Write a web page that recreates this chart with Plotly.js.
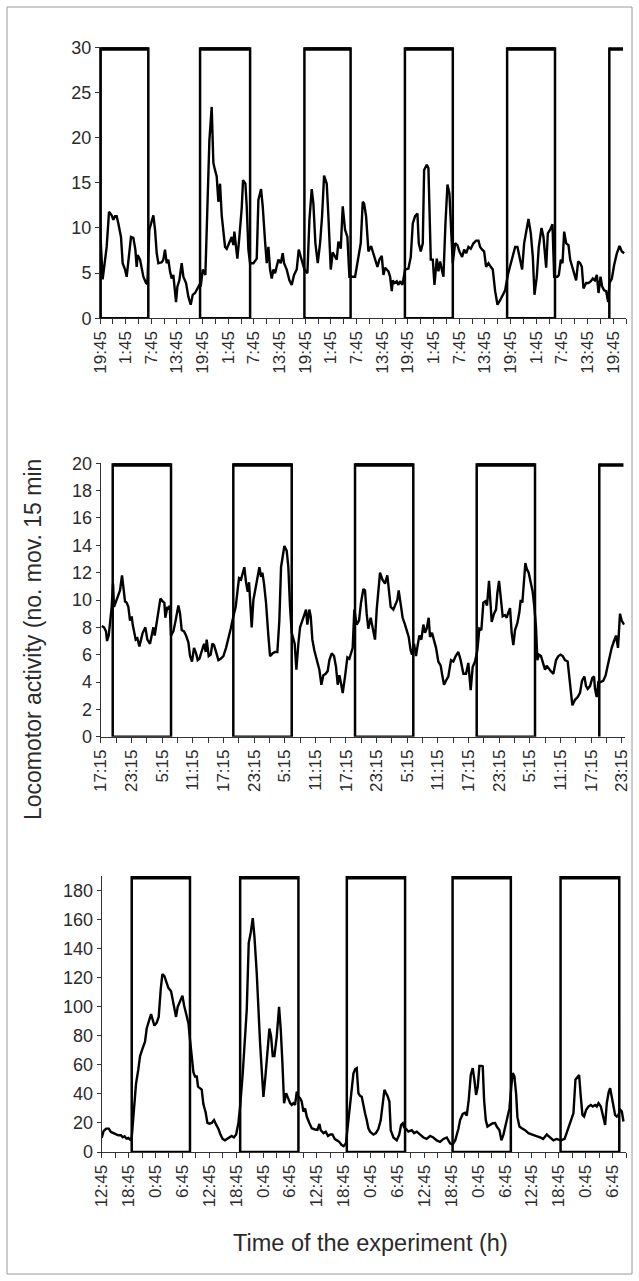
<!DOCTYPE html>
<html>
<head>
<meta charset="utf-8">
<script src="https://cdn.plot.ly/plotly-3.0.1.min.js"></script>
<style>
html,body{margin:0;padding:0;background:#fff;}
#chart{width:639px;height:1281px;}
</style>
</head>
<body>
<div id="chart"></div>
<script>
// ---------- Panel 1 ----------
const hours1 = [0.16,0.62,1.56,2.11,2.73,3.12,3.51,3.90,4.29,4.91,5.30,5.85,6.24,6.78,7.25,7.80,8.27,8.58,8.81,9.36,9.75,10.14,10.76,11.07,11.54,12.48,12.87,13.26,13.65,14.43,14.81,15.20,15.59,15.98,16.37,16.76,17.15,17.54,17.78,18.09,18.56,19.10,19.49,20.12,20.66,21.21,21.68,22.22,22.77,23.24,23.55,24.02,24.64,25.34,25.58,26.12,26.51,26.90,27.29,27.68,28.07,28.46,28.85,29.24,29.63,30.25,30.80,31.19,31.42,31.81,32.12,32.59,33.14,33.45,34.00,34.31,34.70,35.09,35.87,36.65,37.04,37.66,38.05,38.60,38.99,39.38,39.77,40.16,40.55,40.94,41.72,42.26,42.73,43.04,43.66,44.29,44.83,45.38,46.00,46.47,46.94,47.41,47.80,48.50,48.97,49.51,49.90,50.37,50.92,51.46,51.93,52.40,53.02,53.41,53.96,54.42,54.97,55.36,55.75,56.30,56.76,57.31,57.85,58.32,59.10,59.65,60.04,60.43,60.97,61.44,61.75,62.22,62.77,63.39,63.94,64.33,64.87,65.34,65.89,66.28,66.67,67.06,67.45,67.84,68.23,68.46,68.85,69.40,69.79,70.17,70.72,71.34,72.12,72.67,73.14,73.68,74.23,74.54,75.01,75.48,75.79,76.41,76.80,77.35,77.82,78.21,78.75,79.14,79.53,79.92,80.31,80.78,81.25,81.71,82.03,82.49,83.04,83.59,84.05,84.68,85.15,85.61,86.16,86.71,87.33,87.95,88.50,88.89,89.36,89.82,90.29,90.84,91.38,91.85,92.40,92.94,93.57,94.11,94.74,95.36,95.91,96.53,97.08,97.62,98.25,98.71,99.18,99.65,100.19,100.74,101.21,101.60,102.14,102.61,103.24,103.70,104.33,104.72,105.26,105.81,106.20,106.67,106.98,107.29,107.76,108.15,108.54,109.01,109.55,109.94,110.49,110.95,111.34,111.81,112.28,112.67,113.06,113.68,114.23,114.77,115.24,115.71,116.18,116.57,117.04,117.43,117.89,118.36,118.83,119.14,119.69,120.23,120.86,121.48,122.03,122.57];
const activity1 = [8.7,4.3,7.9,11.8,11.4,10.9,11.3,11.3,10.5,9.0,6.1,5.4,4.6,6.8,9.0,8.9,7.6,5.7,7.0,6.5,5.7,4.6,3.9,3.8,9.8,11.4,9.8,7.2,6.1,6.2,6.5,7.6,6.1,6.5,5.2,4.4,4.8,3.1,1.8,3.5,4.2,6.1,4.6,3.9,2.4,1.5,2.6,2.8,3.3,3.7,3.5,5.4,4.8,16.4,19.7,23.4,17.2,16.4,15.7,12.9,14.9,11.4,9.8,7.9,7.7,8.3,9.0,8.1,9.6,7.9,6.6,9.0,12.2,15.3,14.9,12.4,7.6,6.1,6.1,6.6,13.1,14.3,12.4,8.5,6.1,7.9,5.4,4.4,5.4,5.0,6.5,6.1,7.2,6.1,5.4,4.2,3.7,4.8,5.4,7.6,6.8,6.1,5.4,5.0,10.9,14.3,12.7,8.3,6.1,8.3,11.3,15.8,14.9,11.3,5.4,7.3,6.8,6.5,8.5,7.7,12.4,9.8,9.0,4.6,4.6,4.6,5.7,6.8,8.3,12.9,12.7,11.3,7.4,8.0,7.2,6.6,5.7,6.5,6.9,4.8,5.6,5.4,5.2,4.6,3.0,4.2,3.9,4.1,3.7,4.1,3.7,5.4,5.5,6.8,10.5,11.3,11.6,8.3,7.4,8.3,16.4,17.0,16.6,6.5,6.5,3.7,6.6,5.2,6.3,5.4,4.6,10.5,14.8,13.8,9.8,6.1,8.3,8.1,7.4,6.8,7.6,7.2,7.9,7.7,8.3,8.6,8.6,7.9,7.6,7.4,5.7,6.1,5.7,5.4,3.0,1.5,2.0,2.6,3.1,4.8,5.9,6.8,7.9,7.9,6.6,5.4,8.3,9.8,11.0,9.4,6.8,2.6,4.6,7.9,10.0,9.0,5.6,9.4,9.8,10.4,4.6,4.6,4.6,4.8,6.5,6.1,9.6,8.3,8.1,6.5,5.7,5.0,4.2,6.3,6.1,5.7,3.3,3.9,3.9,4.1,4.4,4.2,4.8,2.8,4.6,3.5,3.1,3.0,1.8,3.9,4.4,5.9,7.2,8.0,7.4,7.2];
const darkStart1 = [0.16,23.4,47.8,71.3,95.2,119.1];
const darkEnd1   = [11.3,35.1,58.6,82.5,106.4,122.3];
const tickLabels1 = ['19:45','1:45','7:45','13:45','19:45','1:45','7:45','13:45','19:45','1:45','7:45','13:45','19:45','1:45','7:45','13:45','19:45','1:45','7:45','13:45','19:45'];

// ---------- Panel 2 ----------
const hours2 = [0.20,0.65,1.04,1.24,1.57,1.83,2.15,2.41,2.61,3.00,3.46,3.78,4.17,4.44,4.76,5.09,5.41,5.74,6.07,6.26,6.52,6.85,7.18,7.57,7.89,8.22,8.74,9.13,9.65,9.98,10.31,10.57,10.96,11.35,11.68,12.13,12.46,12.65,13.05,13.31,13.50,13.76,14.22,14.61,14.87,15.20,15.53,15.85,16.31,16.70,17.16,17.48,17.87,18.26,18.66,18.98,19.31,19.77,20.22,20.55,20.74,21.14,21.53,21.85,22.18,22.57,23.03,23.48,24.01,24.53,24.98,25.44,25.96,26.42,26.75,27.07,27.46,27.79,28.11,28.44,28.77,29.03,29.29,29.55,29.88,30.20,30.66,31.05,31.38,31.64,31.96,32.35,32.81,33.14,33.66,34.12,34.57,34.96,35.29,35.94,36.40,36.72,37.05,37.38,37.96,38.29,38.68,39.01,39.46,39.86,40.18,40.44,40.83,41.10,41.42,41.81,42.27,42.79,43.18,43.57,44.03,44.42,44.75,45.21,45.66,46.05,46.38,46.71,47.03,47.36,47.81,48.27,48.66,48.98,49.31,49.63,50.09,50.55,50.94,51.40,51.72,52.05,52.37,52.83,53.22,53.68,54.01,54.33,54.66,55.11,55.64,56.09,56.48,56.75,57.27,57.59,58.05,58.31,58.70,59.09,59.55,59.88,60.27,60.66,60.92,61.31,61.70,62.03,62.36,62.75,63.14,63.46,63.79,64.18,64.44,64.83,65.23,65.62,66.07,66.53,66.79,67.18,67.57,68.03,68.55,69.01,69.47,69.99,70.44,70.97,71.49,71.94,72.40,72.79,73.25,73.70,74.10,74.49,74.88,75.27,75.60,75.99,76.31,76.51,76.97,77.36,77.62,77.95,78.34,78.66,79.12,79.45,79.77,80.10,80.42,80.75,81.08,81.53,81.93,82.19,82.51,82.84,83.10,83.36,83.75,84.14,84.53,84.86,85.19,85.45,85.77,86.16,86.62,86.95,87.27,87.60,88.06,88.58,89.10,89.56,90.01,90.41,90.86,91.38,91.84,92.30,92.82,93.34,93.80,94.19,94.65,94.97,95.30,95.75,96.21,96.54,96.73,97.06,97.39,97.84,98.36,98.82,99.22,99.67,100.00,100.45,100.84,101.23,101.62,101.95,102.41];
const activity2 = [8.1,8.0,7.7,7.0,7.4,8.3,9.5,11.2,9.5,9.9,10.4,10.7,11.8,10.9,9.9,9.8,9.5,8.5,8.8,8.2,7.8,7.1,7.2,6.6,7.1,7.6,8.0,7.1,6.8,7.4,8.0,7.4,8.3,9.3,10.1,9.9,9.8,8.7,9.5,9.3,9.6,7.4,7.7,8.4,9.1,9.6,9.0,7.8,7.7,7.4,6.9,5.9,5.5,6.5,6.1,5.6,5.7,6.2,6.8,6.2,7.1,5.9,6.0,6.8,6.7,6.2,5.6,5.7,5.9,6.5,7.1,7.9,8.8,9.5,10.6,11.6,11.5,12.0,12.4,11.3,10.6,11.3,9.3,8.0,10.0,10.7,11.5,12.4,11.7,12.0,11.2,9.8,7.4,5.9,6.1,6.2,6.2,8.5,12.4,13.95,13.6,12.4,9.5,7.6,6.8,4.9,6.8,8.0,8.5,9.0,9.3,8.2,9.3,8.8,7.1,6.3,5.6,4.9,3.8,4.5,4.6,4.8,5.6,6.1,5.9,5.1,3.8,4.5,3.9,3.2,4.4,5.8,5.7,6.1,6.5,9.3,8.2,8.5,9.8,10.8,10.7,9.0,7.9,8.7,7.9,7.1,9.3,11.0,12.0,11.5,11.2,11.8,10.2,9.5,9.3,9.6,10.0,10.7,9.5,8.7,8.2,7.8,7.3,6.3,6.0,6.8,5.9,6.7,7.4,7.1,8.2,7.6,7.9,8.7,7.3,7.6,7.1,6.5,5.5,5.2,4.6,3.8,4.1,4.4,5.6,5.5,5.9,6.2,5.6,4.6,4.6,5.4,3.4,5.1,5.5,6.3,7.9,7.8,9.8,9.9,9.6,11.4,9.6,8.4,9.0,9.3,10.5,11.4,10.0,8.8,8.9,8.7,9.1,9.4,7.6,6.7,7.8,8.3,9.1,10.0,9.8,11.5,12.7,12.3,12.0,11.3,10.6,9.5,8.0,5.6,6.0,5.9,5.4,4.9,5.2,5.0,4.8,4.6,5.6,5.9,6.0,5.9,5.6,5.5,3.9,2.3,2.7,2.9,3.2,4.1,4.4,3.7,3.5,3.7,4.3,4.4,3.5,2.9,4.0,4.0,4.1,4.5,5.2,6.0,6.5,7.0,7.4,6.5,9.0,8.5,8.2];
const darkStart2 = [2.35,25.95,49.77,73.58,97.57];
const darkEnd2   = [13.76,37.38,61.17,84.99,102.3];
const tickLabels2 = ['17:15','23:15','5:15','11:15','17:15','23:15','5:15','11:15','17:15','23:15','5:15','11:15','17:15','23:15','5:15','11:15','17:15','23:15'];

// ---------- Panel 3 ----------
const hours3 = [0.0,0.41,0.99,1.57,2.06,2.64,3.22,3.71,4.29,4.70,5.12,5.53,5.94,6.35,6.70,7.22,7.66,8.18,8.56,9.15,9.67,10.04,10.57,11.01,11.38,11.76,12.28,12.72,13.17,13.54,13.99,14.51,14.88,15.48,16.00,16.59,16.96,17.49,18.01,18.38,18.82,19.35,19.72,20.09,20.46,20.83,21.21,21.50,21.95,22.32,22.69,23.21,23.59,24.03,24.55,25.07,25.52,26.04,26.5,27.0,27.5,28.0,28.5,29.0,29.5,30.0,30.5,30.88,31.47,31.99,32.37,32.81,33.26,33.71,34.08,34.60,34.97,35.34,35.71,36.09,36.53,36.98,37.43,37.80,38.17,38.54,39.06,39.58,39.96,40.33,40.70,41.15,41.59,42.04,42.41,42.78,43.15,43.53,43.90,44.27,44.64,45.01,45.39,45.76,46.35,46.88,47.62,48.14,48.59,48.88,49.5,50.0,50.5,51.0,51.5,52.0,52.5,53.0,53.5,54.0,54.5,54.83,55.27,55.79,56.17,56.54,56.91,57.28,57.65,58.03,58.40,58.77,59.14,59.51,59.89,60.63,61.2,61.75,62.27,62.71,63.09,63.46,63.83,64.20,64.50,65.10,65.84,66.4,66.81,67.18,67.48,67.92,68.44,69.19,69.71,70.3,71.0,71.8,72.5,73.3,74.0,74.77,75.5,76.26,77.0,77.74,78.3,78.9,79.60,79.98,80.57,81.09,81.46,81.91,82.36,82.80,83.17,83.55,83.92,84.29,84.81,85.03,85.33,85.71,86.08,86.67,87.27,87.79,88.16,88.76,89.2,89.65,90.17,90.62,90.99,91.4,91.73,92.10,92.48,92.77,93.22,93.74,94.48,95.23,96.35,97.0,97.83,98.5,99.32,100.0,100.81,101.5,102.45,103.3,104.16,104.68,105.27,105.72,106.17,106.54,106.91,107.28,107.65,108.10,108.62,109.14,109.59,110.11,110.48,110.86,111.38,111.82,112.34,112.71,113.16,113.46,113.83,114.20,114.57,114.95,115.32,115.69,116.06,116.44];
const activity3 = [9.7,14.3,16.1,16.1,13.8,13.1,12.4,11.5,11.5,10.1,10.8,9.2,9.7,8.5,10,29,47,57,66,71.5,76,85,90,95,91,87,89,93,112,122.5,121,116,113,110.6,102.5,93,100,103.7,107.6,101,95.6,88.7,77,66,55,52,52,45,44,43,33,27,20,19.5,20,22,19,16,12,9,8,9,10,11,10,12,20,31,54,77,98,144,151,161,148.5,123,93,75,56.5,38,52,68,85,79.5,66,66,79.5,100,84,61,33.6,40.5,37,33.6,32.4,33.6,32.4,41.6,38.2,37,34.7,27.8,30,24.4,19.8,16.3,15.5,15.2,19.3,15,13,14,11,12,12,9,8,7,5,4,6,15,31,45,54,57,57.7,40.5,38.6,38,31,26.7,22,16.3,14,12,13,16,22,36,42.8,40.5,38.2,34.7,15,10,8,12,18.6,19.8,17,16,14,15,13,14,12,10,9,11,10,8,7,9,10,6,5,8,16,22,26.2,27,25,36,53,57.7,49.7,39.3,45,59.3,59.3,59,36,22,17.5,18.6,19.8,20,17.5,15,8,12,20,25.5,30,45,54.3,52,40,24,17.5,16.3,15,13,12,11,10,9,12,10,8,9,8,9,16.3,22,26.7,49.7,52,53,38.2,25.5,24.4,29,31.3,32.4,31.3,32.4,31.3,33.6,31.3,24.4,18.6,33.6,41.6,43.9,38.2,31.3,25.5,24.4,25.5,29.2,28,21];
const darkStart3 = [6.7,30.9,54.7,78.3,102.4];
const darkEnd3   = [19.7,43.9,67.7,91.3,115.5];
const tickLabels3 = ['12:45','18:45','0:45','6:45','12:45','18:45','0:45','6:45','12:45','18:45','0:45','6:45','12:45','18:45','0:45','6:45','12:45','18:45','0:45','6:45'];

const yTitle = 'Locomotor activity (no. mov. 15 min';
const xTitle = 'Time of the experiment (h)';

// ---------- Layout helpers ----------
const W = 639, H = 1281;
const FONT = 'Liberation Sans, Arial, Helvetica, sans-serif';
const TXT = '#2b2b2b';
const AX = '#333333';

function px2x(p){ return p / W; }
function px2y(p){ return 1 - p / H; }

const panels = [
  {h: hours1, v: activity1, ds: darkStart1, de: darkEnd1, labels: tickLabels1, xr: [0,123], yr: [0,30], top: 30, ydtick: 5, ymaxTick: 30,
   dom: [100, 626], ydom: [318.3, 47.3], openLast: true},
  {h: hours2, v: activity2, ds: darkStart2, de: darkEnd2, labels: tickLabels2, xr: [0,102.6], yr: [0,20], top: 20, ydtick: 2, ymaxTick: 20,
   dom: [100.7, 625], ydom: [736.7, 463.3], openLast: true},
  {h: hours3, v: activity3, ds: darkStart3, de: darkEnd3, labels: tickLabels3, xr: [0,117], yr: [0,190], top: 190, ydtick: 20, ymaxTick: 180,
   dom: [101.7, 626], ydom: [1152, 876], openLast: false}
];

const data = [];
const layout = {
  width: W, height: H,
  margin: {l:0, r:0, t:0, b:0},
  paper_bgcolor: '#fff', plot_bgcolor: 'rgba(0,0,0,0)',
  showlegend: false,
  font: {family: FONT, color: TXT, size: 17},
  shapes: [], annotations: []
};

panels.forEach((p, i) => {
  const n = i === 0 ? '' : String(i + 1);
  const xa = 'x' + n, ya = 'y' + n;
  data.push({
    type: 'scatter', mode: 'lines', x: p.h, y: p.v,
    xaxis: xa, yaxis: ya,
    line: {color: '#000', width: 2.4}, hoverinfo: 'skip'
  });
  const tv = [], tt = [];
  for (let t = 0; t <= p.xr[1] + 1e-9; t += 3) {
    tv.push(t);
    const k = Math.round(t / 6);
    tt.push(Math.abs(t - k * 6) < 1e-9 && k < p.labels.length ? p.labels[k] : '');
  }
  const ytv = [];
  for (let t = 0; t <= p.ymaxTick + 1e-9; t += p.ydtick) ytv.push(t);
  layout['xaxis' + n] = {
    domain: [px2x(p.dom[0]), px2x(p.dom[1])], range: p.xr, anchor: ya,
    tickmode: 'array', tickvals: tv, ticktext: tt, tickangle: -90,
    ticks: 'outside', ticklen: 5, tickwidth: 1, tickcolor: AX,
    showline: true, linecolor: AX, linewidth: 1, showgrid: false, zeroline: false,
    tickfont: {family: FONT, size: 17, color: TXT}, fixedrange: true
  };
  layout['yaxis' + n] = {
    domain: [px2y(p.ydom[0]), px2y(p.ydom[1])], range: p.yr, anchor: xa,
    tickmode: 'array', tickvals: ytv,
    ticks: 'outside', ticklen: 4, tickwidth: 1, tickcolor: AX,
    showline: true, linecolor: AX, linewidth: 1, showgrid: false, zeroline: false,
    tickfont: {family: FONT, size: 18, color: TXT}, fixedrange: true
  };
  p.ds.forEach((L, j) => {
    const R = p.de[j];
    const open = p.openLast && j === p.ds.length - 1;
    const path = open
      ? `M ${L},0 L ${L},${p.top}`
      : `M ${L},0 L ${L},${p.top} L ${R},${p.top} L ${R},0 Z`;
    layout.shapes.push({type: 'path', xref: xa, yref: ya, path: path,
      line: {color: '#000', width: 2.5}, layer: 'above'});
    layout.shapes.push({type: 'line', xref: xa, yref: ya, x0: L, x1: R, y0: p.top, y1: p.top,
      line: {color: '#000', width: 7}, layer: 'above'});
  });
});

layout.shapes.push({type: 'rect', xref: 'paper', yref: 'paper',
  x0: px2x(7), x1: px2x(632), y0: px2y(1274), y1: px2y(7),
  line: {color: '#9a9a9a', width: 1}, layer: 'below'});

layout.annotations.push({
  xref: 'paper', yref: 'paper', x: px2x(33), y: px2y(640), text: yTitle,
  textangle: -90, showarrow: false, font: {family: FONT, size: 23, color: TXT},
  xanchor: 'center', yanchor: 'middle'
});
layout.annotations.push({
  xref: 'paper', yref: 'paper', x: px2x(370), y: px2y(1243), text: xTitle,
  showarrow: false, font: {family: FONT, size: 23.5, color: TXT},
  xanchor: 'center', yanchor: 'middle'
});

Plotly.newPlot('chart', data, layout, {staticPlot: true, displayModeBar: false});
</script>
</body>
</html>
